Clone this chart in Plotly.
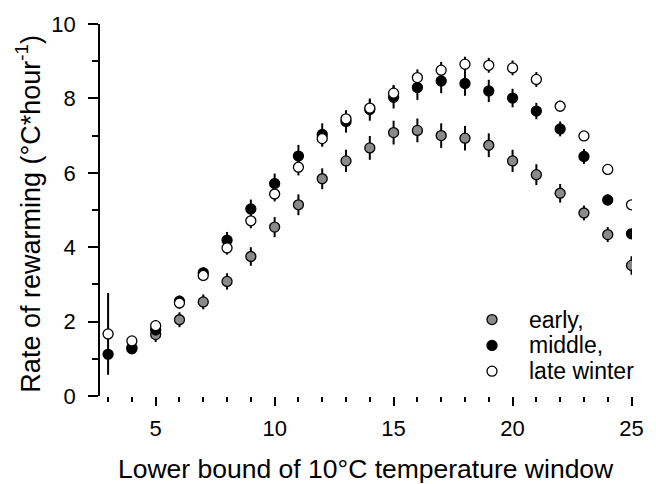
import plotly.graph_objects as go

x_vals = list(range(3, 26))

early = [None, 1.30, 1.65, 2.05, 2.53, 3.08, 3.75, 4.54, 5.14, 5.84, 6.32, 6.67, 7.08, 7.14, 7.00, 6.93, 6.74, 6.32, 5.95, 5.45, 4.92, 4.34, 3.51]
early_err = [None, 0.15, 0.2, 0.2, 0.2, 0.22, 0.25, 0.27, 0.28, 0.28, 0.3, 0.32, 0.32, 0.32, 0.33, 0.33, 0.32, 0.3, 0.28, 0.25, 0.2, 0.2, 0.25]

middle = [1.12, 1.27, 1.78, 2.55, 3.31, 4.19, 5.03, 5.71, 6.45, 7.03, 7.38, 7.70, 8.03, 8.29, 8.47, 8.40, 8.20, 8.01, 7.66, 7.18, 6.44, 5.27, 4.36]
middle_err = [0.1, 0.12, 0.15, 0.15, 0.15, 0.22, 0.25, 0.27, 0.3, 0.3, 0.3, 0.3, 0.3, 0.33, 0.33, 0.33, 0.3, 0.25, 0.22, 0.2, 0.2, 0.15, 0.12]

late = [1.67, 1.48, 1.89, 2.50, 3.24, 3.98, 4.71, 5.43, 6.15, 6.92, 7.45, 7.74, 8.14, 8.56, 8.76, 8.92, 8.89, 8.82, 8.51, 7.79, 6.99, 6.09, 5.14]
late_err = [1.1, 0.12, 0.15, 0.15, 0.15, 0.18, 0.2, 0.2, 0.22, 0.22, 0.22, 0.22, 0.22, 0.22, 0.22, 0.2, 0.2, 0.2, 0.2, 0.15, 0.12, 0.1, 0.1]

series_names = ["early,", "middle,", "late winter"]
series_colors = ["#8a8a8a", "#000000", "#ffffff"]
series_vals = [early, middle, late]
series_errs = [early_err, middle_err, late_err]

FONT = "Liberation Sans, Arial, sans-serif"

fig = go.Figure()
for name, vals, errs, col in zip(series_names, series_vals, series_errs, series_colors):
    fig.add_trace(go.Scatter(
        x=x_vals, y=vals, name=name, mode="markers", showlegend=False,
        marker=dict(size=10, color=col, line=dict(color="black", width=1.3)),
        error_y=dict(type="data", array=errs, visible=True, color="black", thickness=2, width=0),
    ))

fig.update_layout(
    width=656, height=484,
    margin=dict(l=100, r=24, t=21, b=88),
    paper_bgcolor="white", plot_bgcolor="white",
    font=dict(family=FONT, color="black", size=22),
    showlegend=False,
    xaxis=dict(range=[2.66, 25.02], showgrid=False, zeroline=False, showline=False,
               tickmode="array", tickvals=[5, 10, 15, 20, 25], ticks="outside",
               ticklen=9, tickwidth=1.5, tickcolor="black",
               minor=dict(tickmode="linear", tick0=0, dtick=1, ticks="outside", ticklen=5,
                          tickwidth=1.5, tickcolor="black", showgrid=False),
               tickfont=dict(size=22), ticklabelstandoff=4),
    yaxis=dict(range=[0, 10], showgrid=False, zeroline=False, showline=True,
               linecolor="black", linewidth=1.5,
               tickmode="linear", tick0=0, dtick=2, ticks="outside",
               ticklen=10, tickwidth=1.5, tickcolor="black",
               minor=dict(tickmode="linear", tick0=0, dtick=1, ticks="outside", ticklen=6,
                          tickwidth=1.5, tickcolor="black", showgrid=False),
               tickfont=dict(size=22), ticklabelstandoff=8),
)

# detached x-axis baseline from 3 to 25
fig.add_shape(type="line", xref="x", yref="y", x0=3, x1=25,
              ysizemode="pixel", yanchor=0, y0=-2, y1=-2,
              line=dict(color="black", width=1.5))

# legend (symbols + labels)
plot_l, plot_w, plot_t, plot_h = 100, 532, 21, 375
leg_sym_x = (492 - plot_l) / plot_w
leg_txt_x = (527 - plot_l) / plot_w
leg_rows = [319, 345, 371]
for name, col, ypx in zip(series_names, series_colors, leg_rows):
    yp = (plot_t + plot_h - ypx) / plot_h
    fig.add_shape(type="circle", xref="paper", yref="paper",
                  xsizemode="pixel", ysizemode="pixel",
                  xanchor=leg_sym_x, yanchor=yp, x0=-5, x1=5, y0=-5, y1=5,
                  fillcolor=col, line=dict(color="black", width=1.3))
    fig.add_annotation(text=name, xref="paper", yref="paper", x=leg_txt_x, y=yp,
                       xanchor="left", yanchor="middle", showarrow=False,
                       font=dict(size=23))

fig.add_annotation(text="Lower bound of 10°C temperature window", xref="paper", yref="paper",
                   x=0.5, y=-0.195, xanchor="center", yanchor="middle", showarrow=False,
                   font=dict(size=26.5))
fig.add_annotation(text="Rate of rewarming (°C*hour<sup>-1</sup>)", xref="paper", yref="paper",
                   x=-0.1355, y=0.49, xanchor="center", yanchor="middle", textangle=-90,
                   showarrow=False, font=dict(size=27))

fig.write_html("out.html")
